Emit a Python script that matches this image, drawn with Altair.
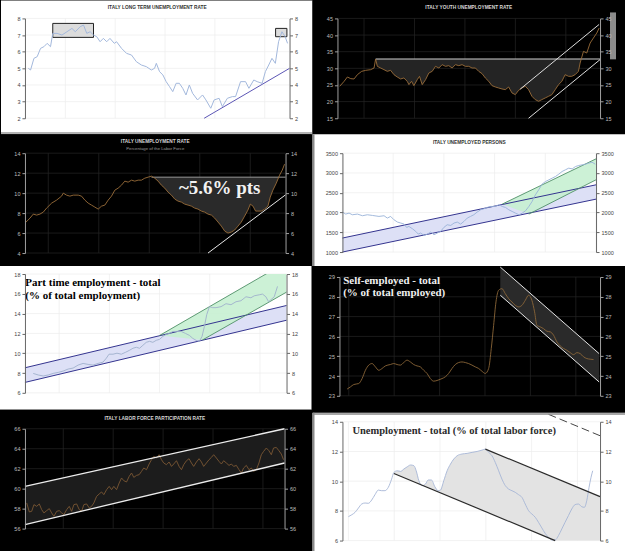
import altair as alt
import numpy as np
import pandas as pd

FONT = "Liberation Sans"
SERIF = "Liberation Serif"

# ---------------- data ----------------
# P1  Italy long term unemployment rate
lt_year = [1993.03, 1993.21, 1993.48, 1993.74, 1994.01, 1994.28, 1994.54, 1994.81, 1994.99, 1995.34,
           1995.73, 1996.13, 1996.53, 1996.80, 1997.19, 1997.46, 1997.72, 1997.99, 1998.26, 1998.52,
           1998.79, 1999.05, 1999.32, 1999.58, 1999.93, 2000.11, 2000.51, 2000.91, 2001.31, 2001.70,
           2002.10, 2002.50, 2002.90, 2003.16, 2003.30, 2003.56, 2003.83, 2004.09, 2004.36, 2004.62,
           2004.89, 2005.15, 2005.42, 2005.68, 2005.95, 2006.21, 2006.61, 2007.01, 2007.28, 2007.67,
           2007.94, 2008.34, 2008.60, 2009.00, 2009.40, 2009.66, 2010.06, 2010.46, 2010.73, 2011.12,
           2011.39, 2011.79, 2012.05, 2012.32, 2012.58, 2012.85, 2013.11, 2013.38, 2013.64, 2013.83]
lt_rate = [5.0, 4.9, 5.6, 5.7, 6.2, 6.3, 6.5, 6.3, 7.1, 7.1,
           7.0, 7.2, 7.4, 7.2, 7.5, 7.6, 7.1, 7.2, 7.0, 6.9,
           6.6, 6.8, 6.6, 6.8, 6.5, 6.6, 6.2, 5.9, 5.8, 5.4,
           5.2, 5.1, 4.9, 5.0, 5.3, 4.8, 4.6, 4.2, 3.9, 3.6,
           4.1, 4.1, 3.8, 3.4, 4.0, 3.5, 3.1, 3.4, 3.1, 2.6,
           3.1, 3.2, 2.7, 3.2, 3.3, 3.3, 4.2, 4.2, 3.8, 4.3,
           4.2, 4.1, 4.8, 5.2, 5.6, 5.3, 6.6, 7.2, 6.9, 6.5]
lt_box_x0 = [1994.99, 2012.87]
lt_box_x1 = [1998.26, 2013.78]
lt_box_y0 = [6.86, 6.90]
lt_box_y1 = [7.70, 7.40]
lt_trend_x = [2007.14, 2013.99]
lt_trend_y = [2.0, 5.0]

# P2  Italy youth unemployment rate
yu_year = [1983.11, 1983.63, 1984.02, 1984.42, 1984.81, 1985.21, 1985.72, 1986.20, 1986.79, 1987.19,
           1987.38, 1987.58, 1987.98, 1988.37, 1988.77, 1989.16, 1989.56, 1989.95, 1990.35, 1990.74,
           1991.14, 1991.34, 1991.65, 1991.93, 1992.33, 1992.60, 1992.92, 1993.32, 1993.71, 1994.11,
           1994.50, 1994.90, 1995.29, 1995.69, 1996.08, 1996.48, 1996.87, 1997.27, 1997.66, 1998.06,
           1998.46, 1998.85, 1999.25, 1999.64, 2000.04, 2000.43, 2000.83, 2001.22, 2001.62, 2002.01,
           2002.41, 2002.81, 2003.20, 2003.60, 2003.99, 2004.39, 2004.78, 2005.18, 2005.57, 2005.97,
           2006.36, 2006.76, 2007.15, 2007.55, 2007.95, 2008.34, 2008.74, 2009.13, 2009.53, 2009.92,
           2010.32, 2010.71, 2011.11, 2011.50, 2011.70, 2012.10, 2012.49, 2012.89, 2013.28, 2013.68,
           2013.96]
yu_rate = [24.6, 26.1, 27.4, 26.9, 26.8, 28.1, 29.1, 29.4, 29.6, 30.1,
           32.8, 30.6, 30.1, 29.6, 29.1, 29.4, 28.1, 27.4, 26.8, 27.1,
           26.1, 25.1, 26.1, 24.8, 26.6, 27.6, 25.1, 26.6, 28.6, 29.1,
           30.6, 30.1, 31.1, 30.6, 30.8, 30.1, 31.1, 30.8, 31.1, 30.6,
           30.6, 30.1, 30.1, 29.1, 28.4, 27.1, 26.1, 24.8, 24.4, 24.1,
           23.8, 23.6, 24.4, 22.6, 22.1, 23.4, 24.1, 24.6, 23.6, 21.6,
           20.6, 20.1, 20.6, 21.1, 21.6, 22.1, 23.6, 25.1, 26.1, 28.1,
           27.6, 27.6, 28.1, 29.1, 31.6, 35.1, 34.6, 37.6, 39.1, 40.6,
           42.1]
yu_level = 32.8
yu_level_x = [1987.38, 2014.07]
yu_fill_end = 2011.84
yu_up_x = [2004.58, 2013.96]
yu_up_y = [23.76, 43.19]
yu_lo_x = [2005.57, 2014.07]
yu_lo_y = [15.0, 32.62]

# P3  Italy unemployment rate
ur_year = [1983.35, 1983.83, 1984.22, 1984.62, 1985.01, 1985.41, 1985.80, 1986.40, 1986.99, 1987.58,
           1987.78, 1988.17, 1988.57, 1988.97, 1989.56, 1989.95, 1990.35, 1990.74, 1991.14, 1991.54,
           1991.93, 1992.33, 1992.72, 1993.12, 1993.51, 1993.91, 1994.30, 1994.70, 1995.09, 1995.49,
           1995.89, 1996.28, 1996.68, 1997.07, 1997.47, 1997.86, 1998.26, 1998.65, 1999.05, 1999.44,
           1999.84, 2000.23, 2000.63, 2001.03, 2001.42, 2001.82, 2002.21, 2002.61, 2003.00, 2003.40,
           2003.79, 2004.19, 2004.58, 2004.98, 2005.38, 2005.77, 2006.17, 2006.56, 2006.96, 2007.35,
           2007.75, 2008.14, 2008.54, 2008.93, 2009.33, 2009.72, 2010.00, 2010.32, 2010.63, 2010.91,
           2011.31, 2011.70, 2012.10, 2012.37, 2012.69, 2013.09, 2013.48, 2013.80, 2014.07]
ur_rate = [7.1, 7.5, 7.9, 7.8, 7.9, 8.1, 8.5, 9.0, 9.3, 9.7,
           10.0, 9.8, 9.7, 9.8, 9.8, 9.7, 9.3, 9.0, 8.8, 8.6,
           8.4, 8.7, 8.8, 9.3, 9.7, 10.3, 10.5, 10.8, 11.2, 11.1,
           11.3, 11.2, 11.3, 11.3, 11.5, 11.6, 11.7, 11.5, 11.2, 10.8,
           10.5, 10.1, 9.8, 9.4, 9.2, 9.1, 8.9, 8.8, 8.7, 8.5,
           8.4, 8.2, 8.1, 7.9, 7.8, 7.5, 7.1, 6.7, 6.2, 6.0,
           6.1, 6.3, 6.7, 7.1, 7.7, 8.3, 8.9, 8.7, 8.2, 8.2,
           8.2, 8.4, 8.7, 9.6, 10.3, 11.0, 11.8, 12.3, 12.9]
ur_level = 11.6
ur_level_x = [1998.26, 2014.19]
ur_fill_end = 2013.38
ur_trend_x = [2004.98, 2014.19]
ur_trend_y = [4.0, 9.83]
ur_note = "~5.6% pts"
ur_note_x = [2006.36]
ur_note_y = [9.9]

# P4  Italy unemployed persons (thousands)
up_year = [2004.00, 2004.13, 2004.26, 2004.39, 2004.59, 2004.79, 2004.98, 2005.18, 2005.44, 2005.64,
           2005.77, 2005.90, 2006.03, 2006.17, 2006.30, 2006.43, 2006.53, 2006.62, 2006.76, 2006.89,
           2006.99, 2007.08, 2007.22, 2007.35, 2007.48, 2007.61, 2007.74, 2007.87, 2008.00, 2008.13,
           2008.27, 2008.40, 2008.53, 2008.66, 2008.79, 2008.92, 2009.05, 2009.18, 2009.31, 2009.45,
           2009.58, 2009.71, 2009.84, 2010.01, 2010.17, 2010.30, 2010.43, 2010.56, 2010.69, 2010.82,
           2010.96, 2011.09, 2011.22, 2011.35, 2011.48, 2011.61, 2011.74, 2011.87, 2012.01, 2012.14,
           2012.27, 2012.40, 2012.53, 2012.66, 2012.79, 2012.92, 2013.06, 2013.19, 2013.32, 2013.45,
           2013.58, 2013.71, 2013.84, 2013.97]
up_persons = [2010, 1960, 1985, 1943, 1960, 1918, 1943, 1926, 1901, 1918,
              1859, 1901, 1817, 1758, 1733, 1707, 1623, 1648, 1589, 1522,
              1455, 1480, 1421, 1455, 1505, 1438, 1480, 1522, 1623, 1690,
              1673, 1733, 1758, 1707, 1774, 1859, 1901, 1943, 2010, 2069,
              2094, 2128, 2153, 2153, 2195, 2153, 2128, 2069, 2027, 1985,
              1943, 1985, 2044, 2153, 2280, 2448, 2574, 2717, 2785, 2827,
              2869, 2911, 2970, 3037, 3079, 3121, 3104, 3163, 3189, 3205,
              3222, 3247, 3273, 3222]
up_blue_x = [2004.0, 2014.0]
up_blue_top = [1354, 2700]
up_blue_bot = [1000, 2338]
up_green_x = [2010.30, 2011.35, 2014.0]
up_green_top = [2212, 2537, 3357]
up_green_bot = [2212, 1960, 2827]

# P5  Part time employment (% of total employment)
pt_year = [1982.90, 1983.50, 1984.09, 1984.69, 1985.28, 1985.88, 1986.48, 1987.07, 1987.67, 1988.26,
           1988.86, 1989.46, 1990.05, 1990.65, 1991.24, 1991.64, 1991.96, 1992.44, 1992.91, 1993.43,
           1993.95, 1994.42, 1994.82, 1995.22, 1995.61, 1996.01, 1996.41, 1996.81, 1997.20, 1997.60,
           1998.00, 1998.40, 1998.79, 1999.19, 1999.59, 1999.98, 2000.58, 2001.10, 2001.57, 2001.97,
           2002.37, 2002.77, 2003.08, 2003.36, 2003.64, 2003.96, 2004.36, 2004.75, 2005.35, 2005.94,
           2006.54, 2007.14, 2007.73, 2008.33, 2008.92, 2009.32, 2009.92, 2010.31, 2010.71, 2011.03,
           2011.31, 2011.71, 2012.10]
pt_share = [7.96, 7.8, 7.7, 7.8, 7.96, 8.06, 8.2, 8.4, 8.5, 8.8,
            8.97, 8.87, 8.8, 8.97, 9.1, 9.5, 9.9, 9.9, 10.0, 9.9,
            10.1, 10.3, 10.5, 10.6, 10.5, 10.8, 11.1, 11.2, 11.1, 11.3,
            11.4, 11.7, 11.9, 12.0, 12.2, 12.2, 12.2, 12.0, 11.8, 11.5,
            11.3, 11.2, 11.7, 12.7, 13.9, 14.7, 14.6, 14.6, 14.7, 15.0,
            14.9, 15.2, 15.3, 15.7, 15.6, 15.8, 15.9, 15.97, 15.7, 15.2,
            15.4, 15.7, 16.75]
pt_blue_x = [1981.91, 2013.18]
pt_blue_top = [8.53, 14.82]
pt_blue_bot = [7.05, 13.33]
pt_green_x = [1997.98, 2003.14, 2013.18]
pt_green_top = [11.78, 14.31, 19.2]
pt_green_bot = [11.78, 11.34, 16.17]
pt_note = "Part time employment - total\n(% of total employment)"
pt_note_x = [1981.95]
pt_note_y = [16.82]

# P6  Self-employed (% of total employed)
se_year = [1979.78, 1980.22, 1980.66, 1981.32, 1981.76, 1982.20, 1982.64, 1983.08, 1983.52, 1983.96,
           1984.40, 1984.84, 1985.50, 1985.94, 1986.38, 1986.82, 1987.26, 1987.70, 1988.14, 1988.58,
           1989.02, 1989.46, 1989.90, 1990.34, 1990.78, 1991.22, 1991.79, 1992.32, 1992.76, 1993.20,
           1993.64, 1994.08, 1994.52, 1994.96, 1995.40, 1995.84, 1996.28, 1996.72, 1997.16, 1997.60,
           1998.04, 1998.48, 1998.83, 1999.14, 1999.45, 1999.80, 2000.24, 2000.68, 2001.12, 2001.56,
           2002.00, 2002.44, 2002.88, 2003.32, 2003.76, 2004.20, 2004.55, 2004.86, 2005.30, 2005.74,
           2006.18, 2006.62, 2007.06, 2007.50, 2007.94, 2008.38, 2008.82, 2009.26, 2009.70, 2010.14,
           2010.58, 2011.02, 2011.46, 2011.90, 2012.34]
se_share = [23.34, 23.45, 23.57, 23.62, 23.87, 24.29, 24.55, 24.63, 24.46, 24.29,
            24.38, 24.51, 24.58, 24.63, 24.58, 24.55, 24.68, 24.8, 24.71, 24.58,
            24.51, 24.46, 24.29, 24.13, 23.87, 23.74, 23.79, 23.87, 23.96, 24.13,
            24.38, 24.58, 24.68, 24.71, 24.68, 24.63, 24.55, 24.46, 24.38, 24.24,
            24.13, 24.38, 25.39, 26.56, 27.74, 28.33, 28.41, 28.16, 27.91, 27.74,
            27.57, 27.49, 27.57, 27.82, 28.08, 27.82, 27.24, 26.56, 26.48, 26.39,
            26.26, 26.23, 26.06, 25.72, 25.52, 25.39, 25.3, 25.18, 25.08, 25.18,
            25.13, 24.97, 24.88, 24.85, 24.83]
se_chan_x = [2000.02, 2013.08]
se_chan_top = [29.5, 25.13]
se_chan_bot = [28.08, 23.7]
se_note = "Self-employed - total\n(% of total employed)"
se_note_x = [1979.26]
se_note_y = [28.65]

# P7  Italy labor force participation rate
lf_year = [1993.07, 1993.28, 1993.47, 1993.65, 1993.87, 1994.08, 1994.27, 1994.45, 1994.67, 1994.88,
           1995.07, 1995.25, 1995.47, 1995.68, 1995.87, 1996.05, 1996.27, 1996.48, 1996.67, 1996.85,
           1997.07, 1997.28, 1997.47, 1997.65, 1997.87, 1998.08, 1998.27, 1998.45, 1998.67, 1998.88,
           1999.07, 1999.25, 1999.47, 1999.68, 1999.87, 2000.05, 2000.27, 2000.48, 2000.67, 2000.85,
           2001.07, 2001.28, 2001.47, 2001.65, 2001.87, 2002.08, 2002.27, 2002.45, 2002.67, 2002.88,
           2003.07, 2003.25, 2003.47, 2003.68, 2003.87, 2004.05, 2004.27, 2004.48, 2004.67, 2004.85,
           2005.07, 2005.28, 2005.47, 2005.65, 2005.87, 2006.08, 2006.27, 2006.45, 2006.67, 2006.88,
           2007.07, 2007.25, 2007.47, 2007.68, 2007.87, 2008.05, 2008.27, 2008.48, 2008.67, 2008.85,
           2009.07, 2009.28, 2009.47, 2009.65, 2009.87, 2010.08, 2010.27, 2010.45, 2010.67, 2010.88,
           2011.07, 2011.25, 2011.47, 2011.68, 2011.87, 2012.05, 2012.27, 2012.48, 2012.67, 2012.85,
           2013.07, 2013.28, 2013.47, 2013.65]
lf_rate = [58.57, 57.67, 57.73, 58.4, 58.23, 58.47, 57.9, 57.57, 57.8, 58.0,
           57.57, 57.23, 57.73, 57.8, 57.57, 57.4, 57.9, 58.23, 57.73, 58.4,
           58.47, 57.9, 57.73, 58.4, 58.47, 58.07, 58.23, 58.57, 59.23, 59.47,
           59.67, 59.4, 59.9, 60.23, 59.9, 60.23, 59.9, 60.57, 61.07, 60.8,
           60.67, 61.23, 61.57, 61.13, 61.33, 61.4, 61.73, 62.07, 61.9, 62.47,
           62.9, 63.23, 63.07, 63.4, 62.9, 62.57, 62.4, 62.67, 62.23, 62.47,
           62.8, 62.23, 61.9, 62.4, 62.8, 63.0, 62.57, 62.23, 62.67, 63.0,
           62.67, 62.23, 62.57, 62.9, 63.13, 63.4, 63.07, 62.73, 62.47, 62.8,
           62.57, 62.33, 62.47, 62.23, 62.33, 61.9, 61.57, 62.07, 62.33, 61.9,
           62.07, 61.73, 61.9, 62.57, 63.4, 63.73, 64.07, 63.8, 63.4, 64.07,
           64.13, 63.8, 63.47, 62.9]
lf_chan_x = [1992.93, 2013.73]
lf_chan_top = [60.23, 66.0]
lf_chan_bot = [56.4, 62.57]

# P8  Unemployment total (% of total labor force)
ut_year = [1980.00, 1980.44, 1980.87, 1981.31, 1981.74, 1982.18, 1982.61, 1983.05, 1983.48, 1983.92,
           1984.35, 1984.79, 1985.22, 1985.66, 1985.96, 1986.40, 1986.84, 1987.27, 1987.71, 1988.14,
           1988.58, 1988.88, 1989.23, 1989.66, 1990.10, 1990.45, 1990.88, 1991.32, 1991.75, 1992.06,
           1992.49, 1992.93, 1993.37, 1993.80, 1994.24, 1994.89, 1995.54, 1996.20, 1996.85, 1997.50,
           1997.94, 1998.37, 1998.81, 1999.24, 1999.68, 2000.11, 2000.55, 2000.98, 2001.42, 2001.85,
           2002.29, 2002.73, 2003.16, 2003.60, 2004.03, 2004.47, 2004.90, 2005.34, 2005.77, 2006.21,
           2006.64, 2007.08, 2007.51, 2007.95, 2008.38, 2008.82, 2009.26, 2009.69, 2010.13, 2010.56,
           2010.91, 2011.22, 2011.52, 2011.78, 2012.00]
ut_rate = [7.61, 7.74, 7.9, 8.19, 8.46, 8.53, 8.51, 8.73, 9.09, 9.4,
           9.36, 9.36, 9.58, 10.14, 10.59, 10.7, 10.66, 10.82, 10.97, 11.09,
           11.04, 10.7, 10.03, 9.7, 9.81, 10.08, 10.08, 9.63, 9.36, 9.4,
           10.03, 10.7, 11.15, 11.49, 11.71, 11.83, 11.87, 11.94, 12.0, 12.09,
           12.16, 11.94, 11.71, 11.26, 10.7, 10.14, 9.7, 9.47, 9.36, 9.25,
           9.09, 8.91, 8.46, 8.01, 7.79, 7.57, 7.23, 6.85, 6.49, 6.22,
           6.04, 6.04, 6.33, 6.78, 7.23, 7.68, 8.13, 8.42, 8.46, 8.28,
           8.24, 8.69, 9.58, 10.26, 10.7]
ut_up_x = [1997.94, 2012.96]
ut_up_y = [12.16, 8.96]
ut_lo_x = [1985.96, 2007.08]
ut_lo_y = [10.52, 6.0]
ut_dash_x = [2006.21, 2012.96]
ut_dash_y = [14.5, 13.06]
ut_note = "Unemployment - total (% of total labor force)"
ut_note_x = [1980.53]
ut_note_y = [13.19]

# ---------------- layout (page cells) ----------------
COLS = [(0, 312), (312, 625)]
ROWS = [(0, 134), (134, 266), (266, 410), (410, 551)]
ONE = pd.DataFrame({"k": [0]})


class Panel:
    def __init__(self, L, T, W, H, col, row, dark, xdom, ydom, xticks, yticks):
        self.L, self.T, self.W, self.H = L, T, W, H
        self.col, self.row, self.dark = col, row, dark
        self.xdom, self.ydom = xdom, ydom
        self.xticks, self.yticks = xticks, yticks
        self.xs = alt.Scale(domain=xdom, nice=False, zero=False)
        self.ys = alt.Scale(domain=ydom, nice=False, zero=False)
        self.layers = []
        if dark:
            self.bg, self.grid, self.axc, self.lab, self.tc = "#000000", "#262626", "#a0a0a0", "#bdbdbd", "#d6d6d6"
        else:
            self.bg, self.grid, self.axc, self.lab, self.tc = "#ffffff", "#ececec", "#666666", "#444444", "#333333"

    def X(self):
        return alt.X("x:Q", scale=self.xs, axis=None)

    def Y(self):
        return alt.Y("y:Q", scale=self.ys, axis=None)

    def line(self, xv, yv, color, width=1.0, interp="linear", clip=False):
        df = pd.DataFrame({"x": xv, "y": yv})
        self.layers.append(alt.Chart(df).mark_line(color=color, strokeWidth=width, interpolate=interp, clip=clip)
                           .encode(x=self.X(), y=self.Y()))

    def seg(self, xv, yv, color, width=1.0, dash=None, clip=False):
        df = pd.DataFrame({"x": [xv[0]], "y": [yv[0]], "x2": [xv[1]], "y2": [yv[1]]})
        kw = dict(color=color, strokeWidth=width, clip=clip)
        if dash:
            kw["strokeDash"] = dash
        self.layers.append(alt.Chart(df).mark_rule(**kw).encode(x=self.X(), y=self.Y(), x2="x2", y2="y2"))

    def band(self, xv, top, bot, color, opacity=1.0, clip=False):
        df = pd.DataFrame({"x": xv, "y": top, "y2": bot})
        self.layers.append(alt.Chart(df).mark_area(color=color, opacity=opacity, clip=clip, strokeWidth=0)
                           .encode(x=self.X(), y=self.Y(), y2="y2"))

    def boxes(self, x0, x1, y0, y1, fill, stroke):
        df = pd.DataFrame({"x": x0, "x2": x1, "y": y0, "y2": y1})
        self.layers.append(alt.Chart(df).mark_rect(fill=fill, stroke=stroke, strokeWidth=1)
                           .encode(x=self.X(), x2="x2", y=self.Y(), y2="y2"))

    def text(self, xv, yv, txt, size, color, align="left", lh=13):
        df = pd.DataFrame({"x": xv, "y": yv, "t": [txt]})
        self.layers.append(alt.Chart(df).mark_text(font=SERIF, fontSize=size, fontWeight="bold", color=color,
                                                   align=align, baseline="alphabetic", lineBreak="\n",
                                                   lineHeight=lh)
                           .encode(x=self.X(), y=self.Y(), text="t:N"))

    def heading(self, txt, ypix, size=4.8, color=None, bold=True):
        # small chart heading centred above the plot (page pixel row ypix)
        self.layers.append(alt.Chart(pd.DataFrame({"t": [txt]})).mark_text(
            font=FONT, fontSize=size, fontWeight="bold" if bold else "normal",
            color=color or self.tc, align="center", baseline="middle").encode(
            x=alt.value(self.W / 2), y=alt.value(ypix - self.T), text="t:N"))

    def deco(self, x0, y0, x1, y1, color):
        # decoration in page pixels (frame borders, scroll bar)
        self.layers.append(alt.Chart(ONE).mark_rect(color=color, strokeWidth=0).encode(
            x=alt.value(x0 - self.L), x2=alt.value(x1 - self.L),
            y=alt.value(y0 - self.T), y2=alt.value(y1 - self.T)))

    def build(self):
        cl, cr = COLS[self.col]
        ct, cb = ROWS[self.row]
        bg = alt.Chart(ONE).mark_rect(color=self.bg, strokeWidth=0).encode(
            x=alt.value(cl - self.L), x2=alt.value(cr - self.L),
            y=alt.value(ct - self.T), y2=alt.value(cb - self.T))
        gx = alt.Chart(pd.DataFrame({"x": self.xticks})).mark_rule(color=self.grid, strokeWidth=0.7).encode(
            x=self.X(), y=alt.value(0), y2=alt.value(self.H))
        gy = alt.Chart(pd.DataFrame({"y": self.yticks})).mark_rule(color=self.grid, strokeWidth=0.7).encode(
            y=self.Y(), x=alt.value(0), x2=alt.value(self.W))
        common = dict(labelFont=FONT, labelFontSize=5.5, labelColor=self.lab, domainColor=self.axc,
                      tickColor=self.axc, tickSize=3, domainWidth=1, tickWidth=1, grid=False, title=None,
                      zindex=1, labelPadding=2, labelOverlap=False)
        xaxis = alt.Axis(values=self.xticks, format="d", labelExpr="'Jan/' + substring(datum.label, 2, 4)",
                         labelFlush=False, orient="bottom", **common)
        yl = alt.Axis(values=self.yticks, format="d", orient="left", **common)
        yr = alt.Axis(values=self.yticks, format="d", orient="right", **common)
        corners = pd.DataFrame({"x": self.xdom, "y": self.ydom})
        carL = alt.Chart(corners).mark_point(opacity=0, size=1).encode(
            x=alt.X("x:Q", scale=self.xs, axis=xaxis), y=alt.Y("y:Q", scale=self.ys, axis=yl))
        carR = alt.Chart(corners).mark_point(opacity=0, size=1).encode(
            x=alt.X("x:Q", scale=self.xs, axis=None), y=alt.Y("y:Q", scale=self.ys, axis=yr))
        ch = alt.layer(bg, gx, gy, *self.layers, carL, carR).resolve_axis(y="independent")
        return ch.properties(width=self.W, height=self.H)


BROWN = "#9a6d3a"
LBLUE = "#a3b8dc"

# ---- P1
p1 = Panel(24, 18, 265, 100, 0, 0, False, [1992.76, 2013.99], [2, 8],
           [1996, 2000, 2004, 2008, 2012], [2, 3, 4, 5, 6, 7, 8])
p1.boxes(lt_box_x0, lt_box_x1, lt_box_y0, lt_box_y1, "#dcdcdc", "#222222")
p1.line(lt_year, lt_rate, LBLUE, 1.0)
p1.seg(lt_trend_x, lt_trend_y, "#5b55b5", 1.0)
p1.deco(0, 132, 312, 133.5, "#9a9a9a")
p1.heading("ITALY LONG TERM UNEMPLOYMENT RATE", 7.5)
c1 = p1.build()

# ---- P2
p2 = Panel(337, 18, 263, 100, 1, 0, True, [1982.84, 2014.07], [15, 45],
           [1986, 1992, 1998, 2004, 2010], [15, 20, 25, 30, 35, 40, 45])
yu_fx = [x for x in yu_year if yu_level_x[0] <= x <= yu_fill_end] + [yu_fill_end]
yu_fy = [min(v, yu_level) for x, v in zip(yu_year, yu_rate) if yu_level_x[0] <= x <= yu_fill_end] + [yu_level]
p2.band(yu_fx, yu_fy, [yu_level] * len(yu_fx), "#242424")
p2.seg(yu_level_x, [yu_level, yu_level], "#cfcfcf", 1.0)
p2.line(yu_year, yu_rate, BROWN, 0.9)
p2.seg(yu_up_x, yu_up_y, "#dedede", 1.0)
p2.seg(yu_lo_x, yu_lo_y, "#dedede", 1.0)
p2.deco(610, 12, 616, 59, "#8c8c8c")
p2.heading("ITALY YOUTH UNEMPLOYMENT RATE", 7.5)
c2 = p2.build()

# ---- P3
p3 = Panel(25, 153, 261, 100, 0, 1, True, [1983.23, 2014.19], [4, 14],
           [1986, 1992, 1998, 2004, 2010], [4, 6, 8, 10, 12, 14])
ur_fx = [x for x in ur_year if ur_level_x[0] <= x <= ur_fill_end] + [ur_fill_end]
ur_fy = [min(v, ur_level) for x, v in zip(ur_year, ur_rate) if ur_level_x[0] <= x <= ur_fill_end] + [ur_level]
p3.band(ur_fx, ur_fy, [ur_level] * len(ur_fx), "#2a2a2a")
p3.seg(ur_level_x, [ur_level, ur_level], "#9a9a9a", 1.0)
p3.line(ur_year, ur_rate, BROWN, 0.9)
p3.seg(ur_trend_x, ur_trend_y, "#e8e8e8", 1.0)
p3.text(ur_note_x, ur_note_y, ur_note, 19, "#f2f2f2", align="center")
p3.heading("ITALY UNEMPLOYMENT RATE", 141.5)
p3.heading("Percentage of the Labor Force", 149, size=4.3, color="#9a9a9a", bold=False)
c3 = p3.build()

# ---- P4
p4 = Panel(342, 153, 254, 99, 1, 1, False, [2004.0, 2014.0], [1000, 3500],
           [2004, 2006, 2008, 2010, 2012, 2014], [1000, 1500, 2000, 2500, 3000, 3500])
p4.band(up_blue_x, up_blue_top, up_blue_bot, "#dde0f6")
p4.band(up_green_x, up_green_top, up_green_bot, "#c6efd2", 0.9)
p4.seg(up_blue_x, up_blue_top, "#33338f", 1.0)
p4.seg(up_blue_x, up_blue_bot, "#33338f", 1.0)
p4.seg([up_green_x[0], up_green_x[-1]], [up_green_top[0], up_green_top[-1]], "#4f8f68", 0.9)
p4.seg([up_green_x[1], up_green_x[-1]], [up_green_bot[1], up_green_bot[-1]], "#4f8f68", 0.9)
p4.line(up_year, up_persons, "#98b2d8", 0.9)
p4.deco(312.5, 134, 314, 266, "#8a8a8a")
p4.heading("ITALY UNEMPLOYED PERSONS", 142.5)
c4 = p4.build()

# ---- P5
p5 = Panel(25, 274, 262, 119, 0, 2, False, [1981.91, 2013.18], [6, 18],
           [1986, 1992, 1998, 2004, 2010], [6, 8, 10, 12, 14, 16, 18])
p5.band(pt_blue_x, pt_blue_top, pt_blue_bot, "#dde0f6")
p5.band(pt_green_x, pt_green_top, pt_green_bot, "#c6efd2", 0.9, clip=True)
p5.seg(pt_blue_x, pt_blue_top, "#33338f", 1.0)
p5.seg(pt_blue_x, pt_blue_bot, "#33338f", 1.0)
p5.seg([pt_green_x[0], pt_green_x[-1]], [pt_green_top[0], pt_green_top[-1]], "#4f8f68", 0.9, clip=True)
p5.seg([pt_green_x[1], pt_green_x[-1]], [pt_green_bot[1], pt_green_bot[-1]], "#4f8f68", 0.9)
p5.line(pt_year, pt_share, "#9fb0cc", 0.9)
p5.text(pt_note_x, pt_note_y, pt_note, 11, "#000000", lh=13)
c5 = p5.build()

# ---- P6
p6 = Panel(339, 277, 261, 119, 1, 2, True, [1978.77, 2013.2], [23, 29],
           [1980, 1986, 1992, 1998, 2004, 2010], [23, 24, 25, 26, 27, 28, 29])
p6.band(se_chan_x, se_chan_top, se_chan_bot, "#2a2a2a")
p6.seg(se_chan_x, se_chan_top, "#e6e6e6", 1.0)
p6.seg(se_chan_x, se_chan_bot, "#e6e6e6", 1.0)
p6.line(se_year, se_share, "#8a6538", 0.9, interp="monotone")
p6.text(se_note_x, se_note_y, se_note, 11, "#f0f0f0", lh=12)
c6 = p6.build()

# ---- P7
p7 = Panel(25, 429, 260, 100, 0, 3, True, [1992.93, 2013.73], [56, 66],
           [1996, 2000, 2004, 2008, 2012], [56, 58, 60, 62, 64, 66])
p7.band(lf_chan_x, lf_chan_top, lf_chan_bot, "#1c1c1c")
p7.line(lf_year, lf_rate, "#7a5733", 0.9)
p7.seg(lf_chan_x, lf_chan_top, "#ececec", 1.3)
p7.seg(lf_chan_x, lf_chan_bot, "#ececec", 1.3)
p7.heading("ITALY LABOR FORCE PARTICIPATION RATE", 419.5)
c7 = p7.build()

# ---- P8
p8 = Panel(342, 419, 258, 119, 1, 3, False, [1979.22, 2012.96], [6, 14],
           [1980, 1986, 1992, 1998, 2004, 2010], [6, 8, 10, 12, 14])
ut_fx = [x for x in ut_year if ut_lo_x[0] <= x <= ut_up_x[0]] + [ut_lo_x[1], ut_up_x[1]]
ut_ftop = [v for x, v in zip(ut_year, ut_rate) if ut_lo_x[0] <= x <= ut_up_x[0]] + \
          list(np.interp([ut_lo_x[1], ut_up_x[1]], ut_up_x, ut_up_y))
ut_fbot = list(np.interp(ut_fx, ut_lo_x, ut_lo_y))
p8.band(ut_fx, ut_ftop, ut_fbot, "#e3e3e3")
p8.line(ut_year, ut_rate, "#a6b6d6", 0.9, interp="monotone")
p8.seg(ut_up_x, ut_up_y, "#2a2a2a", 1.2)
p8.seg(ut_lo_x, ut_lo_y, "#2a2a2a", 1.2)
p8.seg(ut_dash_x, ut_dash_y, "#444444", 1.0, dash=[8, 4])
p8.text(ut_note_x, ut_note_y, ut_note, 10.5, "#2b2b2b")
p8.deco(312.5, 410, 314, 551, "#8a8a8a")
p8.deco(312, 410.5, 625, 412, "#8a8a8a")
c8 = p8.build()

chart = alt.concat(c1, c2, c3, c4, c5, c6, c7, c8, columns=2, spacing=0, bounds="full",
                   align="none").properties(
    padding=0, background="#000000", autosize=alt.AutoSizeParams(type="pad")
).configure_view(stroke=None)

chart.save("out.html", embed_options={"renderer": "svg", "actions": False})
